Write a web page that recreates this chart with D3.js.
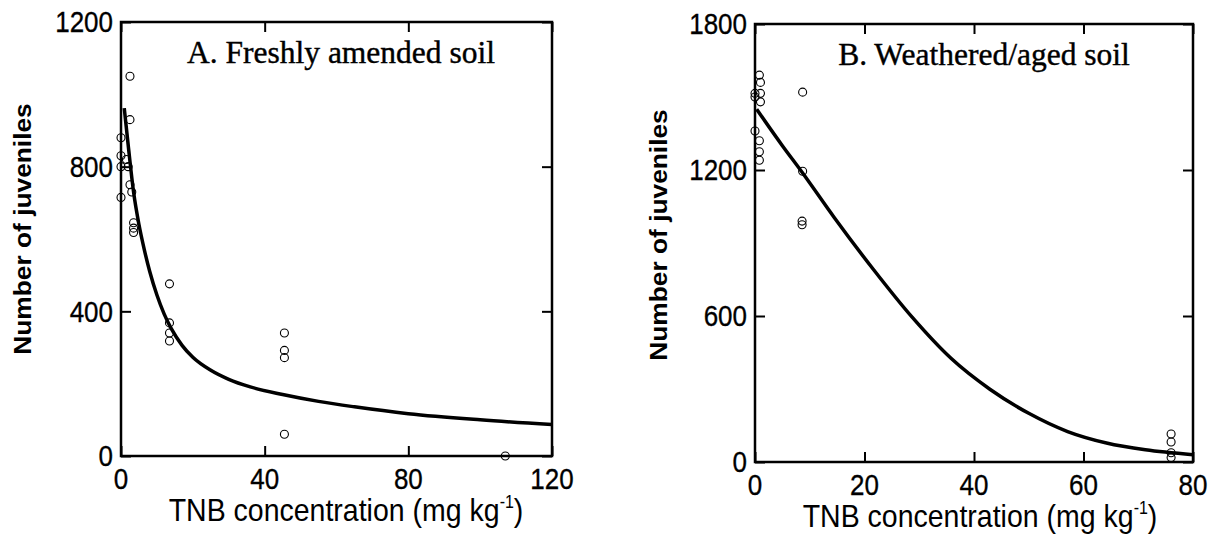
<!DOCTYPE html>
<html>
<head>
<meta charset="utf-8">
<script src="https://cdn.jsdelivr.net/npm/d3@7"></script>
<style>
  html, body { margin: 0; padding: 0; background: #fff; }
  svg { display: block; }
</style>
</head>
<body>
<svg id="chart" width="1217" height="538"></svg>
<script>
// ---- Panel A: freshly amended soil ----
const freshTitle = "A. Freshly amended soil";
const freshX = [0, 0, 0, 0, 1.5, 2, 2.5, 3, 2.5, 2.5, 3.5, 3.5, 3.5, 13.5, 13.5, 13.5, 13.5, 45.5, 45.5, 45.5, 45.5, 107];
const freshY = [880, 830, 800, 715, 820, 800, 750, 730, 1050, 930, 645, 630, 618, 476, 368, 340, 318, 340, 292, 272, 60, 0];
const freshCurveX = [0.9, 2, 3.5, 5, 6.5, 8, 10, 12, 14, 17, 20, 25, 30, 36, 45, 55, 65, 80, 100, 120];
const freshCurveY = [962, 860, 730, 640, 570, 510, 445, 393, 352, 306, 273, 237, 212, 191, 170, 151, 136, 117, 100, 87];
const freshXTicks = [0, 40, 80, 120];
const freshYTicks = [0, 400, 800, 1200];

// ---- Panel B: weathered/aged soil ----
const agedTitle = "B. Weathered/aged soil";
const agedX = [0.8, 1, 0, 0, 1, 1, 0, 0.8, 0.8, 0.8, 8.7, 8.7, 8.6, 8.6, 76, 76, 76, 76];
const agedY = [1590, 1560, 1515, 1500, 1515, 1480, 1360, 1320, 1275, 1240, 1520, 1195, 990, 975, 115, 82, 38, 18];
const agedCurveX = [0.3, 5, 8.5, 14.5, 21.6, 28.7, 35.8, 42.9, 50, 57.1, 64.2, 71.3, 80];
const agedCurveY = [1450, 1300, 1194, 1004, 792, 595, 426, 299, 200, 125, 78, 50, 30];
const agedXTicks = [0, 20, 40, 60, 80];
const agedYTicks = [0, 600, 1200, 1800];

const xTitleMain = "TNB concentration (mg kg";
const xTitleSup = "-1";
const yTitle = "Number of juveniles";

const svg = d3.select("#chart");
const SANS = "'Liberation Sans', Arial, sans-serif";
const SERIF = "'Liberation Serif', 'Times New Roman', serif";
const STRETCH = 1.12;

function panel(cfg) {
  const x = d3.scaleLinear().domain(cfg.xDomain).range([cfg.left, cfg.right]);
  const y = d3.scaleLinear().domain(cfg.yDomain).range([cfg.bottom, cfg.top]);
  const g = svg.append("g");
  const tickLen = 10;

  // inward ticks on all four sides (through d3 axes)
  const axB = d3.axisBottom(x).tickValues(cfg.xTicks).tickSize(-tickLen).tickFormat("");
  const axT = d3.axisTop(x).tickValues(cfg.xTicks).tickSize(-tickLen).tickFormat("");
  const axL = d3.axisLeft(y).tickValues(cfg.yTicks).tickSize(-tickLen).tickFormat("");
  const axR = d3.axisRight(y).tickValues(cfg.yTicks).tickSize(-tickLen).tickFormat("");
  [[axB, `translate(0,${cfg.bottom})`], [axT, `translate(0,${cfg.top})`],
   [axL, `translate(${cfg.left},0)`], [axR, `translate(${cfg.right},0)`]].forEach(([ax, tr]) => {
    const a = g.append("g").attr("transform", tr).call(ax);
    a.select(".domain").remove();
    a.selectAll(".tick line").attr("stroke", "#000").attr("stroke-width", 2);
  });

  // frame
  g.append("rect")
    .attr("x", cfg.left).attr("y", cfg.top)
    .attr("width", cfg.right - cfg.left).attr("height", cfg.bottom - cfg.top)
    .attr("fill", "none").attr("stroke", "#000").attr("stroke-width", 2.5);

  // tick labels
  g.selectAll(".ylab").data(cfg.yTicks).enter().append("text")
    .attr("transform", d => `translate(${cfg.left - 8},${y(d)}) scale(1,${STRETCH})`)
    .attr("dy", "0.36em")
    .attr("text-anchor", "end")
    .attr("font-family", SANS).attr("font-size", 26)
    .attr("stroke", "#000").attr("stroke-width", 0.3)
    .text(d => d);
  g.selectAll(".xlab").data(cfg.xTicks).enter().append("text")
    .attr("transform", d => `translate(${x(d)},${cfg.bottom + 33}) scale(1,${STRETCH})`)
    .attr("text-anchor", "middle")
    .attr("font-family", SANS).attr("font-size", 26)
    .attr("stroke", "#000").attr("stroke-width", 0.3)
    .text(d => d);

  // x title with superscript
  const xt = g.append("text")
    .attr("transform", `translate(${cfg.xTitleX},${cfg.bottom + 65}) scale(1,${STRETCH})`)
    .attr("text-anchor", "middle")
    .attr("font-family", SANS).attr("font-size", 28.5);
  xt.append("tspan").text(xTitleMain);
  xt.append("tspan").attr("font-size", 16).attr("dy", -12).text(xTitleSup);
  xt.append("tspan").attr("dy", 12).text(")");

  // y title
  g.append("text")
    .attr("transform", `translate(${cfg.yTitleX},${cfg.yTitleY}) rotate(-90) scale(${STRETCH},1)`)
    .attr("text-anchor", "middle")
    .attr("font-family", SANS).attr("font-weight", "bold").attr("font-size", 23.5)
    .text(yTitle);

  // panel title
  g.append("text")
    .attr("x", cfg.titleX).attr("y", cfg.titleY)
    .attr("text-anchor", "middle")
    .attr("font-family", SERIF).attr("font-size", 31.5)
    .attr("stroke", "#000").attr("stroke-width", 0.4)
    .text(cfg.title);

  // fitted curve
  const curvePts = cfg.curveX.map((v, i) => [v, cfg.curveY[i]]);
  g.append("path")
    .datum(curvePts)
    .attr("d", d3.line().x(d => x(d[0])).y(d => y(d[1])).curve(d3.curveMonotoneX))
    .attr("fill", "none").attr("stroke", "#000").attr("stroke-width", 3.5)
    .attr("stroke-linejoin", "round");

  // observations
  const pts = cfg.px.map((v, i) => [v, cfg.py[i]]);
  g.selectAll(".pt").data(pts).enter().append("circle")
    .attr("cx", d => x(d[0])).attr("cy", d => y(d[1])).attr("r", 4)
    .attr("fill", "none").attr("stroke", "#000").attr("stroke-width", 1.1);
}

panel({
  left: 121, right: 552, top: 22, bottom: 456,
  xDomain: [0, 120], yDomain: [0, 1200],
  xTicks: freshXTicks, yTicks: freshYTicks,
  px: freshX, py: freshY, curveX: freshCurveX, curveY: freshCurveY,
  title: freshTitle, titleX: 341, titleY: 63,
  xTitleX: 346, yTitleX: 31, yTitleY: 229
});

panel({
  left: 755, right: 1193, top: 24, bottom: 462,
  xDomain: [0, 80], yDomain: [0, 1800],
  xTicks: agedXTicks, yTicks: agedYTicks,
  px: agedX, py: agedY, curveX: agedCurveX, curveY: agedCurveY,
  title: agedTitle, titleX: 984, titleY: 65,
  xTitleX: 980, yTitleX: 667, yTitleY: 235
});
</script>
</body>
</html>
